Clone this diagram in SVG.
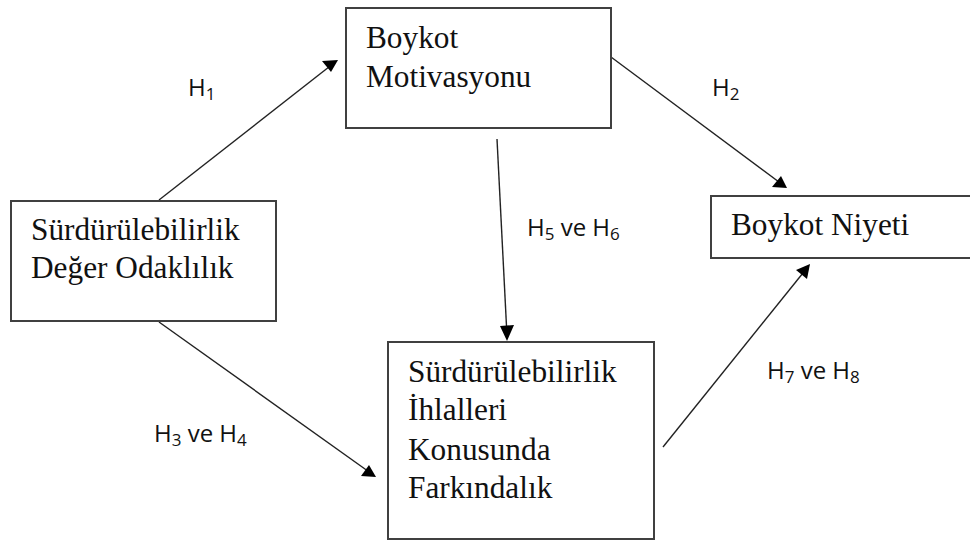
<svg xmlns="http://www.w3.org/2000/svg" width="970" height="543" viewBox="0 0 970 543">
<defs>
<style>
.box{fill:#fff;stroke:#404040;stroke-width:2}
.t{font-family:"Liberation Serif","Times New Roman",serif;font-size:31.3px;fill:#111}
.lbl{font-family:"Open Sans","Liberation Sans",sans-serif;font-size:24px;fill:#111}
.sub{font-size:17px}
.c{stroke:#222;stroke-width:1.4;fill:none}
.ah{fill:#000}
</style>
</defs>
<rect width="970" height="543" fill="#fff"/>
<g id="connectors">
<line class="c" x1="159" y1="200" x2="334" y2="63"/>
<path class="ah" d="M338,60 L322,61 L331,72 z"/>
<line class="c" x1="611" y1="57" x2="783" y2="185"/>
<path class="ah" d="M787,188 L772,187 L781,176 z"/>
<line class="c" x1="497" y1="139" x2="507" y2="336"/>
<path class="ah" d="M507,341 L500,326 L514,325 z"/>
<line class="c" x1="159" y1="322" x2="372" y2="474"/>
<path class="ah" d="M376,477 L361,476 L369,465 z"/>
<line class="c" x1="663" y1="447" x2="807" y2="268"/>
<path class="ah" d="M810,264 L807,279 L796,270 z"/>
</g>
<g id="lbl-h1"><text class="lbl" x="188" y="96">H<tspan class="sub" dy="4">1</tspan></text></g>
<g id="lbl-h2"><text class="lbl" x="712" y="96">H<tspan class="sub" dy="4">2</tspan></text></g>
<g id="lbl-h56"><text class="lbl" x="527" y="236">H<tspan class="sub" dy="4">5</tspan><tspan dy="-4"> ve H</tspan><tspan class="sub" dy="4">6</tspan></text></g>
<g id="lbl-h34"><text class="lbl" x="154" y="442">H<tspan class="sub" dy="4">3</tspan><tspan dy="-4"> ve H</tspan><tspan class="sub" dy="4">4</tspan></text></g>
<g id="lbl-h78"><text class="lbl" x="767" y="379">H<tspan class="sub" dy="4">7</tspan><tspan dy="-4"> ve H</tspan><tspan class="sub" dy="4">8</tspan></text></g>
<g id="node-motivasyon">
<rect class="box" x="346" y="8" width="265" height="120"/>
<text class="t" x="366" y="48">Boykot</text>
<text class="t" x="366" y="87">Motivasyonu</text>
</g>
<g id="node-deger">
<rect class="box" x="11" y="201" width="265" height="120"/>
<text class="t" x="31" y="240">Sürdürülebilirlik</text>
<text class="t" x="31" y="278">Değer Odaklılık</text>
</g>
<g id="node-niyet">
<rect class="box" x="711" y="196" width="270" height="62"/>
<text class="t" x="731" y="235">Boykot Niyeti</text>
</g>
<g id="node-farkindalik">
<rect class="box" x="388" y="342" width="266" height="197"/>
<text class="t" x="408" y="382">Sürdürülebilirlik</text>
<text class="t" x="408" y="420">İhlalleri</text>
<text class="t" x="408" y="460">Konusunda</text>
<text class="t" x="408" y="498">Farkındalık</text>
</g>
</svg>
